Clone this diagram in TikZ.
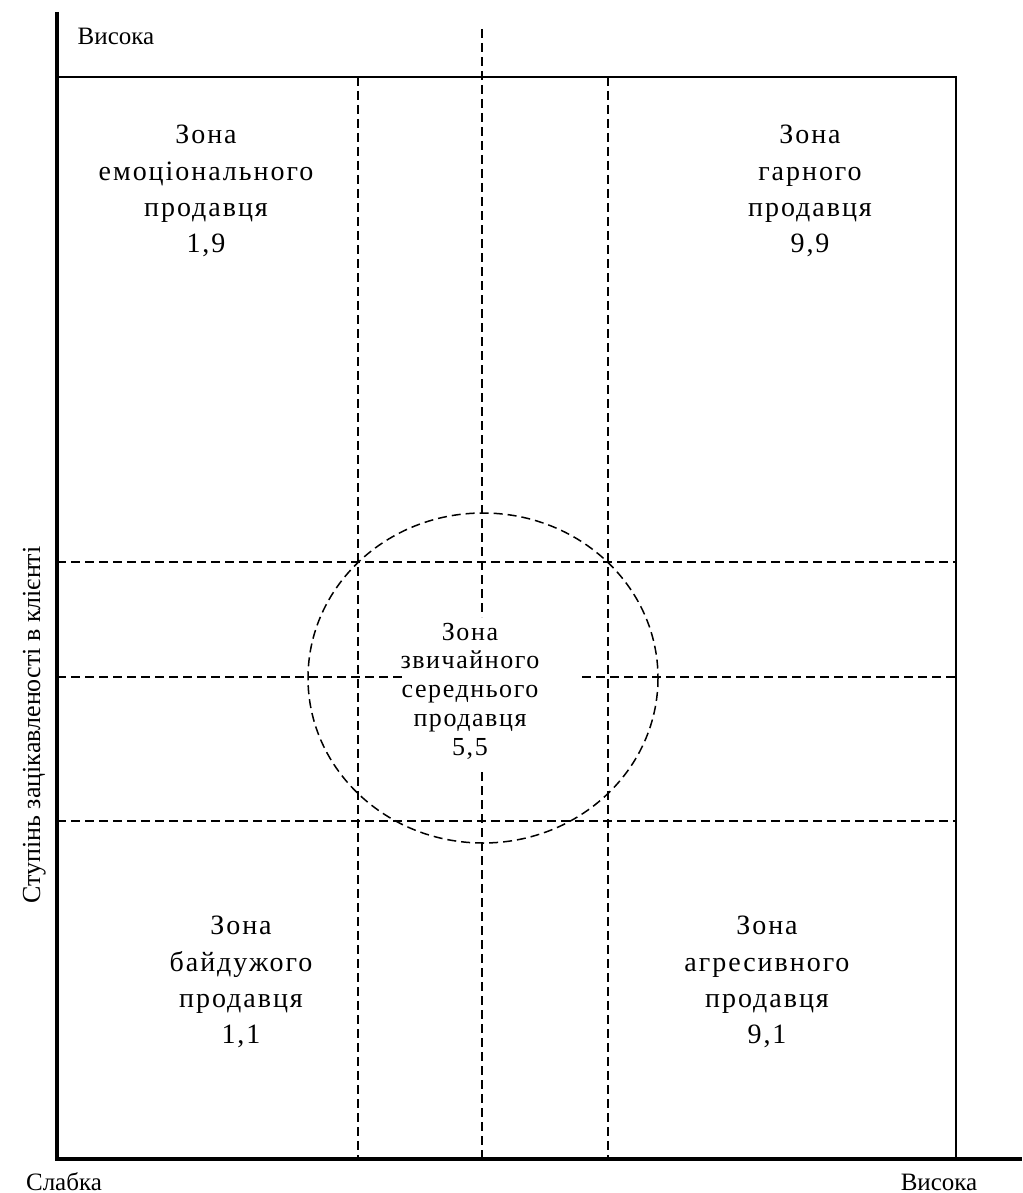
\documentclass[tikz,border=0pt]{standalone}
\usepackage{fontspec}
\setmainfont{Liberation Serif}
\newfontfamily\zonefont[LetterSpace=7]{Liberation Serif}
\newfontfamily\midfont[LetterSpace=6]{Liberation Serif}
\begin{document}
\begin{tikzpicture}[x=1pt,y=-1pt,
  axisline/.style={line width=4pt,line join=miter},
  boxline/.style={line width=1.5pt},
  gridline/.style={line width=1.5pt,dash pattern=on 9pt off 5pt},
  zonetext/.style={align=center,inner sep=0pt,anchor=north,font=\zonefont\fontsize{28}{36.3}\selectfont},
  midtext/.style={align=center,inner sep=0pt,anchor=north,font=\midfont\fontsize{26}{28.75}\selectfont},
  axislabel/.style={inner sep=0pt,anchor=base,font=\fontsize{25}{30}\selectfont}]
\useasboundingbox (0,0) rectangle (1022,1193);
% frame box
\draw[boxline] (57,77) -- (956,77) -- (956,1159);
% dashed grid
\draw[gridline] (358,77) -- (358,1159);
\draw[gridline] (608,77) -- (608,1159);
\draw[gridline] (482,29) -- (482,617);
\draw[gridline] (482,772) -- (482,1159);
\draw[gridline] (57,562) -- (956,562);
\draw[gridline] (57,821) -- (956,821);
\draw[gridline] (57,677) -- (402,677);
\draw[gridline] (582,677) -- (956,677);
% circle
\draw[gridline] (483,678) ellipse [x radius=175, y radius=165];
% axes
\draw[axisline] (57,12) -- (57,1159) -- (1022,1159);
% labels
\node[axislabel] (ytop) at (116,45) {Висока};
\node[axislabel] (xlow) at (64,1190) {Слабка};
\node[axislabel] (xhigh) at (939,1190) {Висока};
\node[axislabel,font=\fontsize{26}{30}\selectfont,rotate=90] (ylabel) at (40,725) {Ступінь зацікавленості в клієнті};
% zones
\node[zonetext] (z19) at (206,125) {Зона\\емоціонального\\продавця\\1,9};
\node[zonetext] (z99) at (810,125) {Зона\\гарного\\продавця\\9,9};
\node[zonetext] (z11) at (241,916) {Зона\\байдужого\\продавця\\1,1};
\node[zonetext] (z91) at (767,916) {Зона\\агресивного\\продавця\\9,1};
\node[midtext] (z55) at (470,622.6) {Зона\\звичайного\\середнього\\продавця\\5,5};
\end{tikzpicture}
\end{document}
